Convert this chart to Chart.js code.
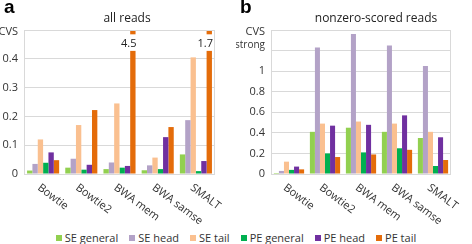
<!DOCTYPE html>
<html lang="en">
<head>
  <meta charset="UTF-8">
  <title>CVS by aligner</title>
  <script src="https://cdn.jsdelivr.net/npm/chart.js"></script>
  <style>
    body { margin: 0; background: #fff; font-family: 'Open Sans', sans-serif; color: #333; }
    #wrap { position: relative; width: 472px; height: 244px; overflow: hidden; }
    .panel { position: absolute; top: 0; width: 236px; height: 224px; }
    .tag { position: absolute; top: -4px; font: bold 19px 'Liberation Sans', sans-serif; color: #000; }
    .ttl { position: absolute; top: 9px; font-size: 12px; color: #222; transform: translateX(-50%); white-space: nowrap; }
    #legend { position: absolute; top: 230px; left: 0; width: 472px; display: flex; justify-content: center; gap: 11px; font-size: 11px; color: #333; }
    #legend span { display: flex; align-items: center; }
    #legend i { display: inline-block; width: 6px; height: 6px; margin-right: 3px; }
  </style>
</head>
<body>
<div id="wrap">
  <div class="panel" style="left:0"><canvas id="chartA" width="236" height="224"></canvas></div>
  <div class="panel" style="left:236px"><canvas id="chartB" width="236" height="224"></canvas></div>
  <div class="tag" style="left:4px">a</div>
  <div class="tag" style="left:240px">b</div>
  <div class="ttl" style="left:127px">all reads</div>
  <div class="ttl" style="left:376px">nonzero-scored reads</div>
  <div id="legend"></div>
</div>

<script>
const aligners = ["Bowtie", "Bowtie2", "BWA mem", "BWA samse", "SMALT"];
const seriesNames = ["SE general", "SE head", "SE tail", "PE general", "PE head", "PE tail"];
const seriesColors = ["#92d050", "#b3a2c7", "#fac090", "#00b050", "#7030a0", "#e46c0a"];

// panel a: all reads
const allSEgeneral = [0.012, 0.022, 0.017, 0.013, 0.068];
const allSEhead    = [0.035, 0.053, 0.040, 0.030, 0.187];
const allSEtail    = [0.120, 0.170, 0.245, 0.057, 0.405];
const allPEgeneral = [0.039, 0.015, 0.022, 0.017, 0.010];
const allPEhead    = [0.075, 0.032, 0.028, 0.128, 0.045];
const allPEtail    = [0.048, 0.222, 4.5, 0.163, 1.7];

// panel b: nonzero-scored reads
const nzSEgeneral = [0.010, 0.410, 0.450, 0.410, 0.350];
const nzSEhead    = [0.030, 1.230, 1.360, 1.250, 1.050];
const nzSEtail    = [0.120, 0.490, 0.510, 0.490, 0.410];
const nzPEgeneral = [0.040, 0.200, 0.210, 0.250, 0.078];
const nzPEhead    = [0.072, 0.470, 0.478, 0.570, 0.357];
const nzPEtail    = [0.045, 0.165, 0.190, 0.235, 0.136];

// y-axis captions (drawn at the top of each axis)
const capA = ["CVS"];
const capB = ["CVS", "strong"];

const FONT = "'Open Sans', sans-serif";
const GRID = "#d9d9d9";

function makeSets(arrs) {
  return arrs.map((d, i) => ({
    label: seriesNames[i], data: d, backgroundColor: seriesColors[i],
    categoryPercentage: 0.84, barPercentage: 1.0
  }));
}

// frame + slanted category labels + broken bars + axis caption
const decor = {
  id: 'decor',
  afterDatasetsDraw(chart, args, opts) {
    const ctx = chart.ctx, a = chart.chartArea, ys = chart.scales.y, xs = chart.scales.x;
    ctx.save();
    ctx.strokeStyle = GRID; ctx.lineWidth = 1;
    ctx.strokeRect(a.left + 0.5, a.top + 0.5, a.right - a.left - 1, a.bottom - a.top);
    // broken bars (value above axis max)
    const max = ys.max;
    chart.data.datasets.forEach((ds, di) => {
      const meta = chart.getDatasetMeta(di);
      ds.data.forEach((v, i) => {
        if (v <= max) return;
        const bar = meta.data[i];
        const r = bar.x + bar.width / 2;
        const g1 = ys.getPixelForValue(max * 0.97), g2 = ys.getPixelForValue(max * 0.855);
        ctx.fillStyle = '#fff';
        ctx.fillRect(r - 20, g1, 22, g2 - g1);
        ctx.fillStyle = '#222';
        ctx.font = '11px ' + FONT;
        ctx.textAlign = 'right'; ctx.textBaseline = 'middle';
        ctx.fillText(String(v), r + 1, (g1 + g2) / 2 + 1);
      });
    });
    // axis caption
    ctx.fillStyle = '#333';
    ctx.textAlign = 'right'; ctx.textBaseline = 'middle';
    opts.caption.forEach((t, k) => {
      ctx.font = (k ? '10px ' : '11px ') + FONT;
      ctx.fillText(t, a.left - 6, a.top + 2 + k * 13);
    });
    // category labels
    ctx.font = '11px ' + FONT;
    ctx.textAlign = 'left'; ctx.textBaseline = 'top';
    aligners.forEach((c, i) => {
      const x = xs.getPixelForValue(i);
      ctx.save();
      ctx.translate(x - 1, a.bottom + 8);
      ctx.rotate(37 * Math.PI / 180);
      ctx.fillText(c, 0, 0);
      ctx.restore();
    });
    ctx.restore();
  }
};

function makeChart(id, arrs, yMax, step, leftW, caption) {
  const hideAbove = yMax - caption.length * step + 1e-6;
  return new Chart(document.getElementById(id), {
    type: 'bar',
    data: { labels: aligners, datasets: makeSets(arrs) },
    options: {
      responsive: false, animation: false,
      layout: { padding: { top: 30, right: 21, left: 0, bottom: 0 } },
      plugins: { legend: { display: false }, tooltip: { enabled: false }, decor: { caption: caption } },
      scales: {
        x: {
          grid: { display: false }, border: { display: false },
          ticks: { display: false },
          afterFit: s => { s.height = 50; }
        },
        y: {
          min: 0, max: yMax,
          grid: { color: GRID, drawTicks: false }, border: { display: false },
          ticks: {
            stepSize: step, padding: 6, color: '#333', font: { family: FONT, size: 11 },
            // top ticks are covered by the caption
            callback: v => v > hideAbove ? '' : String(+v.toFixed(1))
          },
          afterFit: s => { s.width = leftW; }
        }
      }
    },
    plugins: [decor]
  });
}

makeChart('chartA',
  [allSEgeneral, allSEhead, allSEtail, allPEgeneral, allPEhead, allPEtail],
  0.5, 0.1, 24, capA);

makeChart('chartB',
  [nzSEgeneral, nzSEhead, nzSEtail, nzPEgeneral, nzPEhead, nzPEtail],
  1.4, 0.2, 35, capB);

const leg = document.getElementById('legend');
seriesNames.forEach((n, i) => {
  const s = document.createElement('span');
  s.innerHTML = '<i style="background:' + seriesColors[i] + '"></i>' + n;
  leg.appendChild(s);
});
</script>
</body>
</html>
